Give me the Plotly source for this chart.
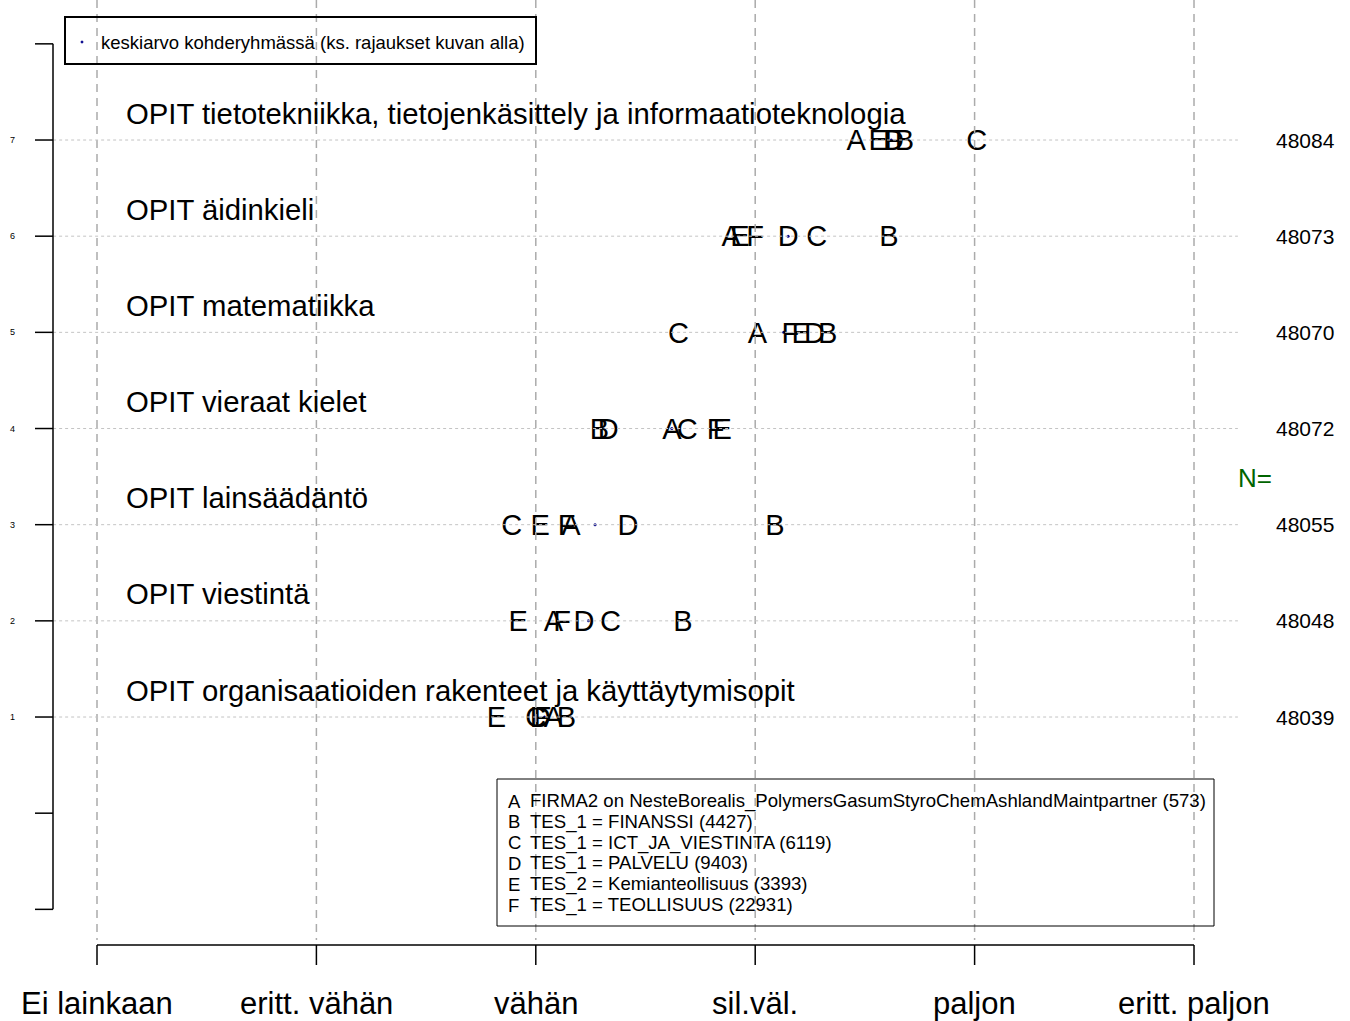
import plotly.graph_objects as go

# ---------------- data ----------------
items = [
    "OPIT organisaatioiden rakenteet ja käyttäytymisopit",
    "OPIT viestintä",
    "OPIT lainsäädäntö",
    "OPIT vieraat kielet",
    "OPIT matematiikka",
    "OPIT äidinkieli",
    "OPIT tietotekniikka, tietojenkäsittely ja informaatioteknologia",
]
rows = [1, 2, 3, 4, 5, 6, 7]
n_values = [48039, 48048, 48055, 48072, 48070, 48073, 48084]

group_letters = ["A", "B", "C", "D", "E", "F"]
group_labels = [
    "FIRMA2 on NesteBorealis_PolymersGasumStyroChemAshlandMaintpartner (573)",
    "TES_1 = FINANSSI (4427)",
    "TES_1 = ICT_JA_VIESTINTA (6119)",
    "TES_1 = PALVELU (9403)",
    "TES_2 = Kemianteollisuus (3393)",
    "TES_1 = TEOLLISUUS (22931)",
]
# group means per item (rows 1..7)
means_A = [3.08, 3.08, 3.16, 3.62, 4.01, 3.89, 4.46]
means_B = [3.14, 3.67, 4.09, 3.29, 4.33, 4.61, 4.68]
means_C = [3.00, 3.34, 2.89, 3.69, 3.65, 4.28, 5.01]
means_D = [3.02, 3.22, 3.42, 3.33, 4.27, 4.15, 4.63]
means_E = [2.82, 2.92, 3.02, 3.85, 4.21, 3.93, 4.56]
means_F = [3.03, 3.12, 3.14, 3.82, 4.16, 4.00, 4.63]
group_means = [means_A, means_B, means_C, means_D, means_E, means_F]
# overall mean in target group
overall_mean = [3.04, 3.24, 3.27, 3.62, 4.13, 4.15, 4.62]

scale_labels = ["Ei lainkaan", "eritt. vähän", "vähän", "sil.väl.", "paljon", "eritt. paljon"]
scale_values = [1, 2, 3, 4, 5, 6]

# ---------------- layout geometry ----------------
W, H = 1350, 1021
X0, X1 = 0.5579, 6.711
Y0, Y1 = -2.161, 8.456
Y_PX = (Y1 - Y0) / H          # data units per pixel
TEXT_SHIFT = 3 * Y_PX         # letters' glyph centring correction
USR_X = (0.8, 6.2)
FONT = "Liberation Sans, Arial, sans-serif"


def px(x):
    return x / W


def py(y):
    return 1 - y / H


fig = go.Figure()
shapes = []
annotations = []

# vertical dashed grid lines at the scale points
for v in scale_values:
    shapes.append(dict(type="line", xref="x", yref="paper", x0=v, x1=v,
                       y0=py(0), y1=py(940),
                       line=dict(color="#ababab", width=1.5, dash="8px,6px")))
# dotted row lines
for r in rows:
    shapes.append(dict(type="line", xref="x", yref="y", x0=USR_X[0], x1=USR_X[1],
                       y0=r, y1=r, line=dict(color="#c4c4c4", width=1, dash="dot")))

# left axis
shapes.append(dict(type="line", xref="paper", yref="y", x0=px(53), x1=px(53),
                   y0=-1, y1=8, line=dict(color="black", width=1.5)))
for t in range(-1, 9):
    shapes.append(dict(type="line", xref="paper", yref="y", x0=px(35), x1=px(53),
                       y0=t, y1=t, line=dict(color="black", width=1.5)))
for r in rows:
    annotations.append(dict(x=px(12), xref="paper", y=r, yref="y", text=str(r),
                            showarrow=False, font=dict(size=9, color="black", family=FONT),
                            xanchor="center", yanchor="middle"))

# bottom axis
shapes.append(dict(type="line", xref="x", yref="paper", x0=1, x1=6,
                   y0=py(945), y1=py(945), line=dict(color="black", width=1.5)))
for v, lab in zip(scale_values, scale_labels):
    shapes.append(dict(type="line", xref="x", yref="paper", x0=v, x1=v,
                       y0=py(945), y1=py(965), line=dict(color="black", width=1.5)))
    annotations.append(dict(x=v, xref="x", y=py(1003), yref="paper", text=lab,
                            showarrow=False, font=dict(size=31, color="black", family=FONT),
                            xanchor="center", yanchor="middle"))

# item titles
for r, name in zip(rows, items):
    annotations.append(dict(x=px(124), xref="paper", y=r + 0.28, yref="y", text=name,
                            showarrow=False, font=dict(size=29.3, color="black", family=FONT),
                            xanchor="left", yanchor="middle"))

# N values
for r, n in zip(rows, n_values):
    annotations.append(dict(x=px(1305), xref="paper", y=r, yref="y", text=str(n),
                            showarrow=False, font=dict(size=21, color="black", family=FONT),
                            xanchor="center", yanchor="middle"))
annotations.append(dict(x=px(1255), xref="paper", y=py(478), yref="paper", text="N=",
                        showarrow=False, font=dict(size=26, color="#006400", family=FONT),
                        xanchor="center", yanchor="middle"))

# overall mean dots
fig.add_trace(go.Scatter(x=overall_mean, y=rows, mode="markers",
                         marker=dict(color="#00008b", size=3), showlegend=False,
                         hoverinfo="skip"))

# group letters (on a twin y axis nudged so glyphs sit centred on the row lines)
for letter, vals in zip(group_letters, group_means):
    fig.add_trace(go.Scatter(x=vals, y=rows, mode="text", text=[letter] * len(rows),
                             textposition="middle center", yaxis="y2",
                             textfont=dict(size=29, color="black", family=FONT),
                             showlegend=False, hoverinfo="skip"))

# top legend box
shapes.append(dict(type="rect", xref="paper", yref="paper", x0=px(65), x1=px(536),
                   y0=py(64), y1=py(17), line=dict(color="black", width=2),
                   fillcolor="rgba(0,0,0,0)"))
shapes.append(dict(type="circle", xref="paper", yref="paper", x0=px(81), x1=px(83),
                   y0=py(43), y1=py(41), line=dict(color="#00008b", width=1),
                   fillcolor="#00008b"))
annotations.append(dict(x=px(99), xref="paper", y=py(42), yref="paper",
                        text="keskiarvo kohderyhmässä (ks. rajaukset kuvan alla)",
                        showarrow=False, font=dict(size=18.5, color="black", family=FONT),
                        xanchor="left", yanchor="middle"))

# bottom legend box
shapes.append(dict(type="rect", xref="paper", yref="paper", x0=px(497), x1=px(1214),
                   y0=py(926), y1=py(779), line=dict(color="black", width=1),
                   fillcolor="rgba(0,0,0,0)"))
for i, (letter, lab) in enumerate(zip(group_letters, group_labels)):
    yy = 801 + i * 20.8
    annotations.append(dict(x=px(506), xref="paper", y=py(yy), yref="paper", text=letter,
                            showarrow=False, font=dict(size=18.5, color="black", family=FONT),
                            xanchor="left", yanchor="middle"))
    annotations.append(dict(x=px(528), xref="paper", y=py(yy), yref="paper", text=lab,
                            showarrow=False, font=dict(size=18.6, color="black", family=FONT),
                            xanchor="left", yanchor="middle"))

fig.update_layout(
    width=W, height=H, autosize=False,
    margin=dict(l=0, r=0, t=0, b=0, pad=0),
    paper_bgcolor="white", plot_bgcolor="white",
    xaxis=dict(range=[X0, X1], visible=False, showgrid=False, zeroline=False, domain=[0, 1]),
    yaxis=dict(range=[Y0, Y1], visible=False, showgrid=False, zeroline=False, domain=[0, 1]),
    yaxis2=dict(range=[Y0 + TEXT_SHIFT, Y1 + TEXT_SHIFT], overlaying="y", visible=False,
                showgrid=False, zeroline=False),
    shapes=shapes, annotations=annotations, showlegend=False,
    font=dict(family=FONT),
)

fig.write_html(
    "out.html",
    config={"displayModeBar": False},
    post_script="document.body.style.margin='0px';document.body.style.overflow='hidden';",
)
